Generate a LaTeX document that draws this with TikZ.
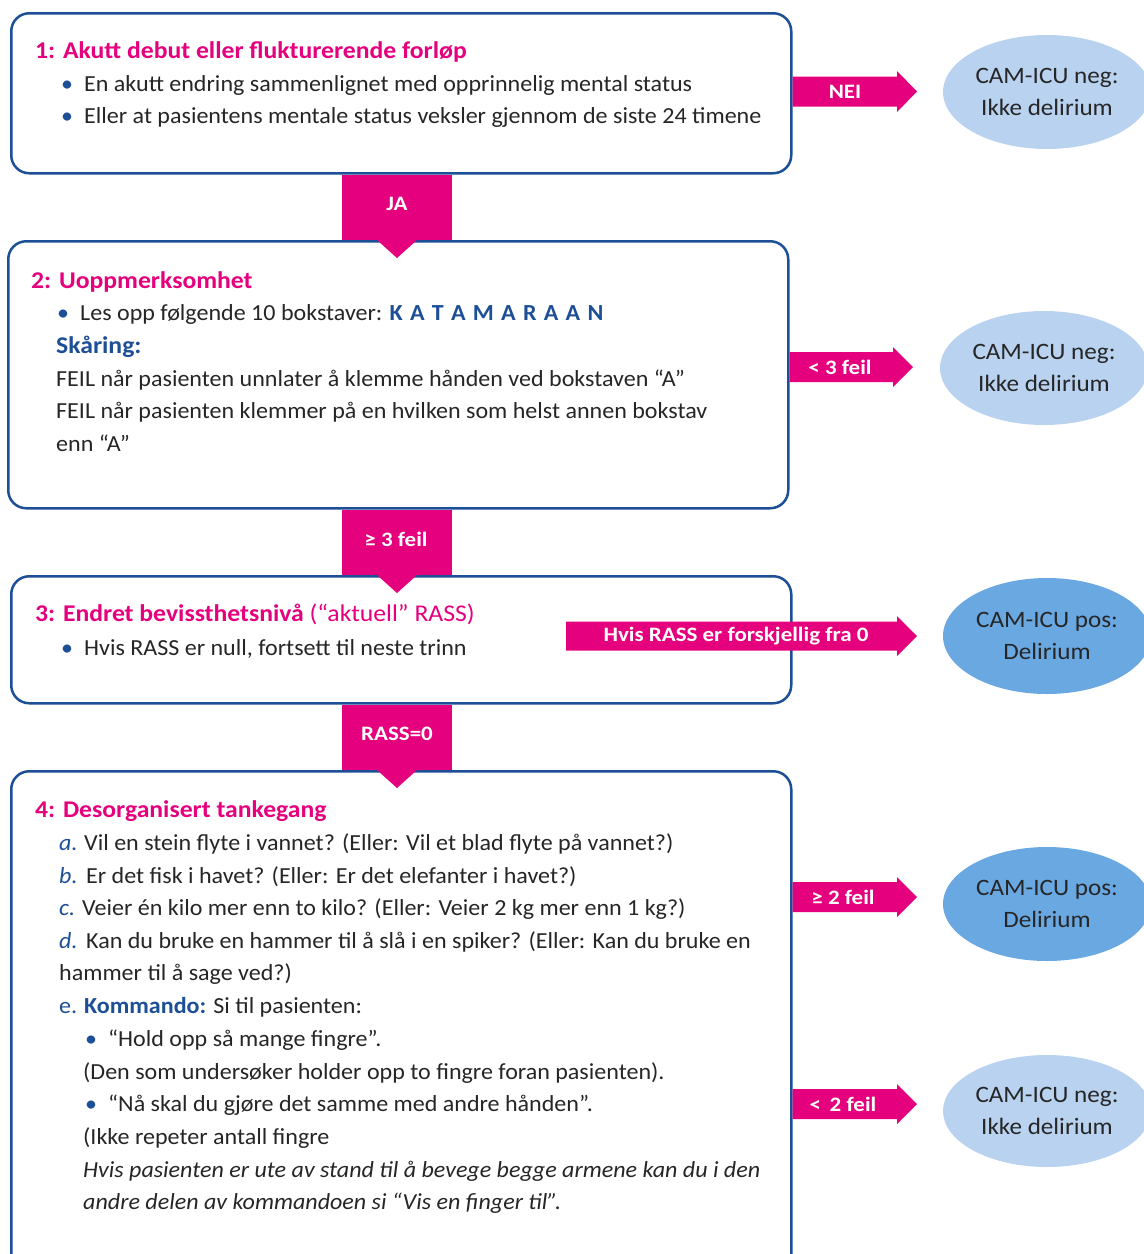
\documentclass[tikz,border=0pt]{standalone}
\usepackage{fontspec}
\setmainfont{Carlito}[FakeStretch=1.045]
\newfontfamily\ttlfont{Carlito}[FakeStretch=1.07]
\newfontfamily\lblfont{Carlito}[FakeStretch=1.12]
\newfontfamily\ellfont{Carlito}[FakeStretch=1.07]
\newfontfamily\katfont{Carlito}[FakeStretch=1.045,LetterSpace=8]
\usetikzlibrary{shapes.geometric,calc}
\definecolor{pinkc}{HTML}{E5007D}
\definecolor{navy}{HTML}{1D4F96}
\definecolor{txt}{HTML}{262626}
\definecolor{lightell}{HTML}{B8D2EF}
\definecolor{darkell}{HTML}{6AA8E2}
\newcommand\rarrow[4]{% start, tip, half body, half head
  \fill[pinkc] ($(#1)+(0,-#3)$) -- ($(#2)+(-20,-#3)$) -- ($(#2)+(-20,-#4)$) -- (#2)
    -- ($(#2)+(-20,#4)$) -- ($(#2)+(-20,#3)$) -- ($(#1)+(0,#3)$) -- cycle;}
\newcommand\darrow[3]{% upper box, lower box, centre x
  \fill[pinkc] ($(#1.south -| #3,0)+(-55,0)$) rectangle ($(#2.north -| #3,0)+(55,0)$);
  \fill[pinkc] ($(#2.north -| #3,0)+(-20,0)$) -- ($(#2.north -| #3,0)+(20,0)$) -- ($(#2.north -| #3,0)+(0,18)$) -- cycle;}
\newcommand\bul{\makebox[23pt][l]{\color{navy}•}}
\begin{document}
\begin{tikzpicture}[x=1pt,y=-1pt,
  box/.style={draw=navy, line width=2.5pt, fill=white, rounded corners=18pt, anchor=north west, inner sep=0},
  ell/.style={ellipse, inner sep=0, minimum width=208pt, minimum height=114pt, text=txt, align=center, font=\ellfont\fontsize{23.5}{32}\selectfont},
  tx/.style={anchor=base west, inner sep=0, text=txt, font=\fontsize{23}{26}\selectfont},
  ttl/.style={anchor=base west, inner sep=0, text=pinkc, font=\ttlfont\fontsize{24}{26}\selectfont\bfseries},
  lbl/.style={inner sep=0, text=white, font=\lblfont\fontsize{20.5}{22}\selectfont\bfseries},
]
\useasboundingbox (0,0) rectangle (1144,1254);
\clip (0,0) rectangle (1144,1254);

% boxes
\node[box, minimum width=780pt, minimum height=160pt] (b1) at (10,12) {};
\node[box, minimum width=780pt, minimum height=267pt] (b2) at (7,240) {};
\node[box, minimum width=780pt, minimum height=127pt] (b3) at (10,575) {};
\node[box, minimum width=780pt, minimum height=520pt] (b4) at (10,770) {};

% ellipses
\node[ell, fill=lightell] (e1) at (1047,92) {CAM-ICU neg:\\Ikke delirium};
\node[ell, fill=lightell] (e2) at (1044,368) {CAM-ICU neg:\\Ikke delirium};
\node[ell, fill=darkell, minimum height=116pt] (e3) at (1047,636) {CAM-ICU pos:\\Delirium};
\node[ell, fill=darkell] (e4) at (1047,904) {CAM-ICU pos:\\Delirium};
\node[ell, fill=lightell, minimum height=112pt] (e5) at (1047,1111) {CAM-ICU neg:\\Ikke delirium};

% down connectors
\darrow{b1}{b2}{397}
\darrow{b2}{b3}{397}
\darrow{b3}{b4}{397}
\node[lbl] (ja) at (397,204) {JA};
\node[lbl] (g3) at (396,539) {≥ 3 feil};
\node[lbl] (r0) at (397,734) {RASS=0};

% right connectors
\coordinate (t1) at (917,91.5);
\coordinate (t2) at (913,367);
\coordinate (s3) at (566,636);
\coordinate (t3) at (917,636);
\coordinate (t4) at (917,897);
\coordinate (t5) at (917,1104);
\rarrow{b1.east |- t1}{t1}{15}{20.5}
\rarrow{b2.east |- t2}{t2}{15}{20}
\rarrow{s3}{t3}{14.5}{20}
\rarrow{b4.east |- t4}{t4}{15}{20}
\rarrow{b4.east |- t5}{t5}{15}{20}
\node[lbl] (nei) at (845,91.5) {NEI};
\node[lbl] (l3) at (840,367) {< 3 feil};
\node[lbl] (lr) at (736,636) {Hvis RASS er forskjellig fra 0};
\node[lbl] (l2a) at (843,897) {≥ 2 feil};
\node[lbl] (l2b) at (843,1104) {<\, 2 feil};

% box 1 text
\node[ttl] (h1) at (35,58) {1: Akutt debut eller flukturerende forløp};
\node[tx] (p11) at (61,91) {\bul En akutt endring sammenlignet med opprinnelig mental status};
\node[tx] (p12) at (61,123) {\bul Eller at pasientens mentale status veksler gjennom de siste 24 timene};

% box 2 text
\node[ttl] (h2) at (31,288) {2: Uoppmerksomhet};
\node[tx] (p21) at (57,320) {\bul Les opp følgende 10 bokstaver: {\katfont\color{navy}\bfseries K A T A M A R A A N}};
\node[tx, text=navy, font=\ttlfont\fontsize{24}{26}\selectfont\bfseries] (p22) at (56,353) {Skåring:};
\node[tx] (p23) at (56,386) {FEIL når pasienten unnlater å klemme hånden ved bokstaven “A”};
\node[tx] (p24) at (56,418) {FEIL når pasienten klemmer på en hvilken som helst annen bokstav};
\node[tx] (p25) at (56,451) {enn “A”};

% box 3 text
\node[ttl] (h3) at (35,621) {3: Endret bevissthetsnivå \mdseries(“aktuell” RASS)};
\node[tx] (p31) at (61,655) {\bul Hvis RASS er null, fortsett til neste trinn};

% box 4 text
\node[ttl] (h4) at (35,817) {4: Desorganisert tankegang};
\node[tx] (p41) at (59,850) {\makebox[25pt][l]{\color{navy}\itshape a.}Vil en stein flyte i vannet? (Eller: Vil et blad flyte på vannet?)};
\node[tx] (p42) at (59,883) {\makebox[27pt][l]{\color{navy}\itshape b.}Er det fisk i havet? (Eller: Er det elefanter i havet?)};
\node[tx] (p43) at (59,915) {\makebox[23pt][l]{\color{navy}\itshape c.}Veier én kilo mer enn to kilo? (Eller: Veier 2 kg mer enn 1 kg?)};
\node[tx] (p44) at (59,948) {\makebox[27pt][l]{\color{navy}\itshape d.}Kan du bruke en hammer til å slå i en spiker? (Eller: Kan du bruke en};
\node[tx] (p45) at (59,980) {hammer til å sage ved?)};
\node[tx] (p46) at (59,1013) {\makebox[25pt][l]{\color{navy}e.}{\color{navy}\bfseries Kommando:} Si til pasienten:};
\node[tx] (p47) at (85,1046) {\bul “Hold opp så mange fingre”.};
\node[tx] (p48) at (83,1079) {(Den som undersøker holder opp to fingre foran pasienten).};
\node[tx] (p49) at (85,1111) {\bul “Nå skal du gjøre det samme med andre hånden”.};
\node[tx] (p410) at (83,1144) {(Ikke repeter antall fingre};
\node[tx, font=\fontsize{23}{26}\selectfont\itshape] (p411) at (83,1177) {Hvis pasienten er ute av stand til å bevege begge armene kan du i den};
\node[tx, font=\fontsize{23}{26}\selectfont\itshape] (p412) at (83,1209) {andre delen av kommandoen si “Vis en finger til”.};
\end{tikzpicture}
\end{document}
